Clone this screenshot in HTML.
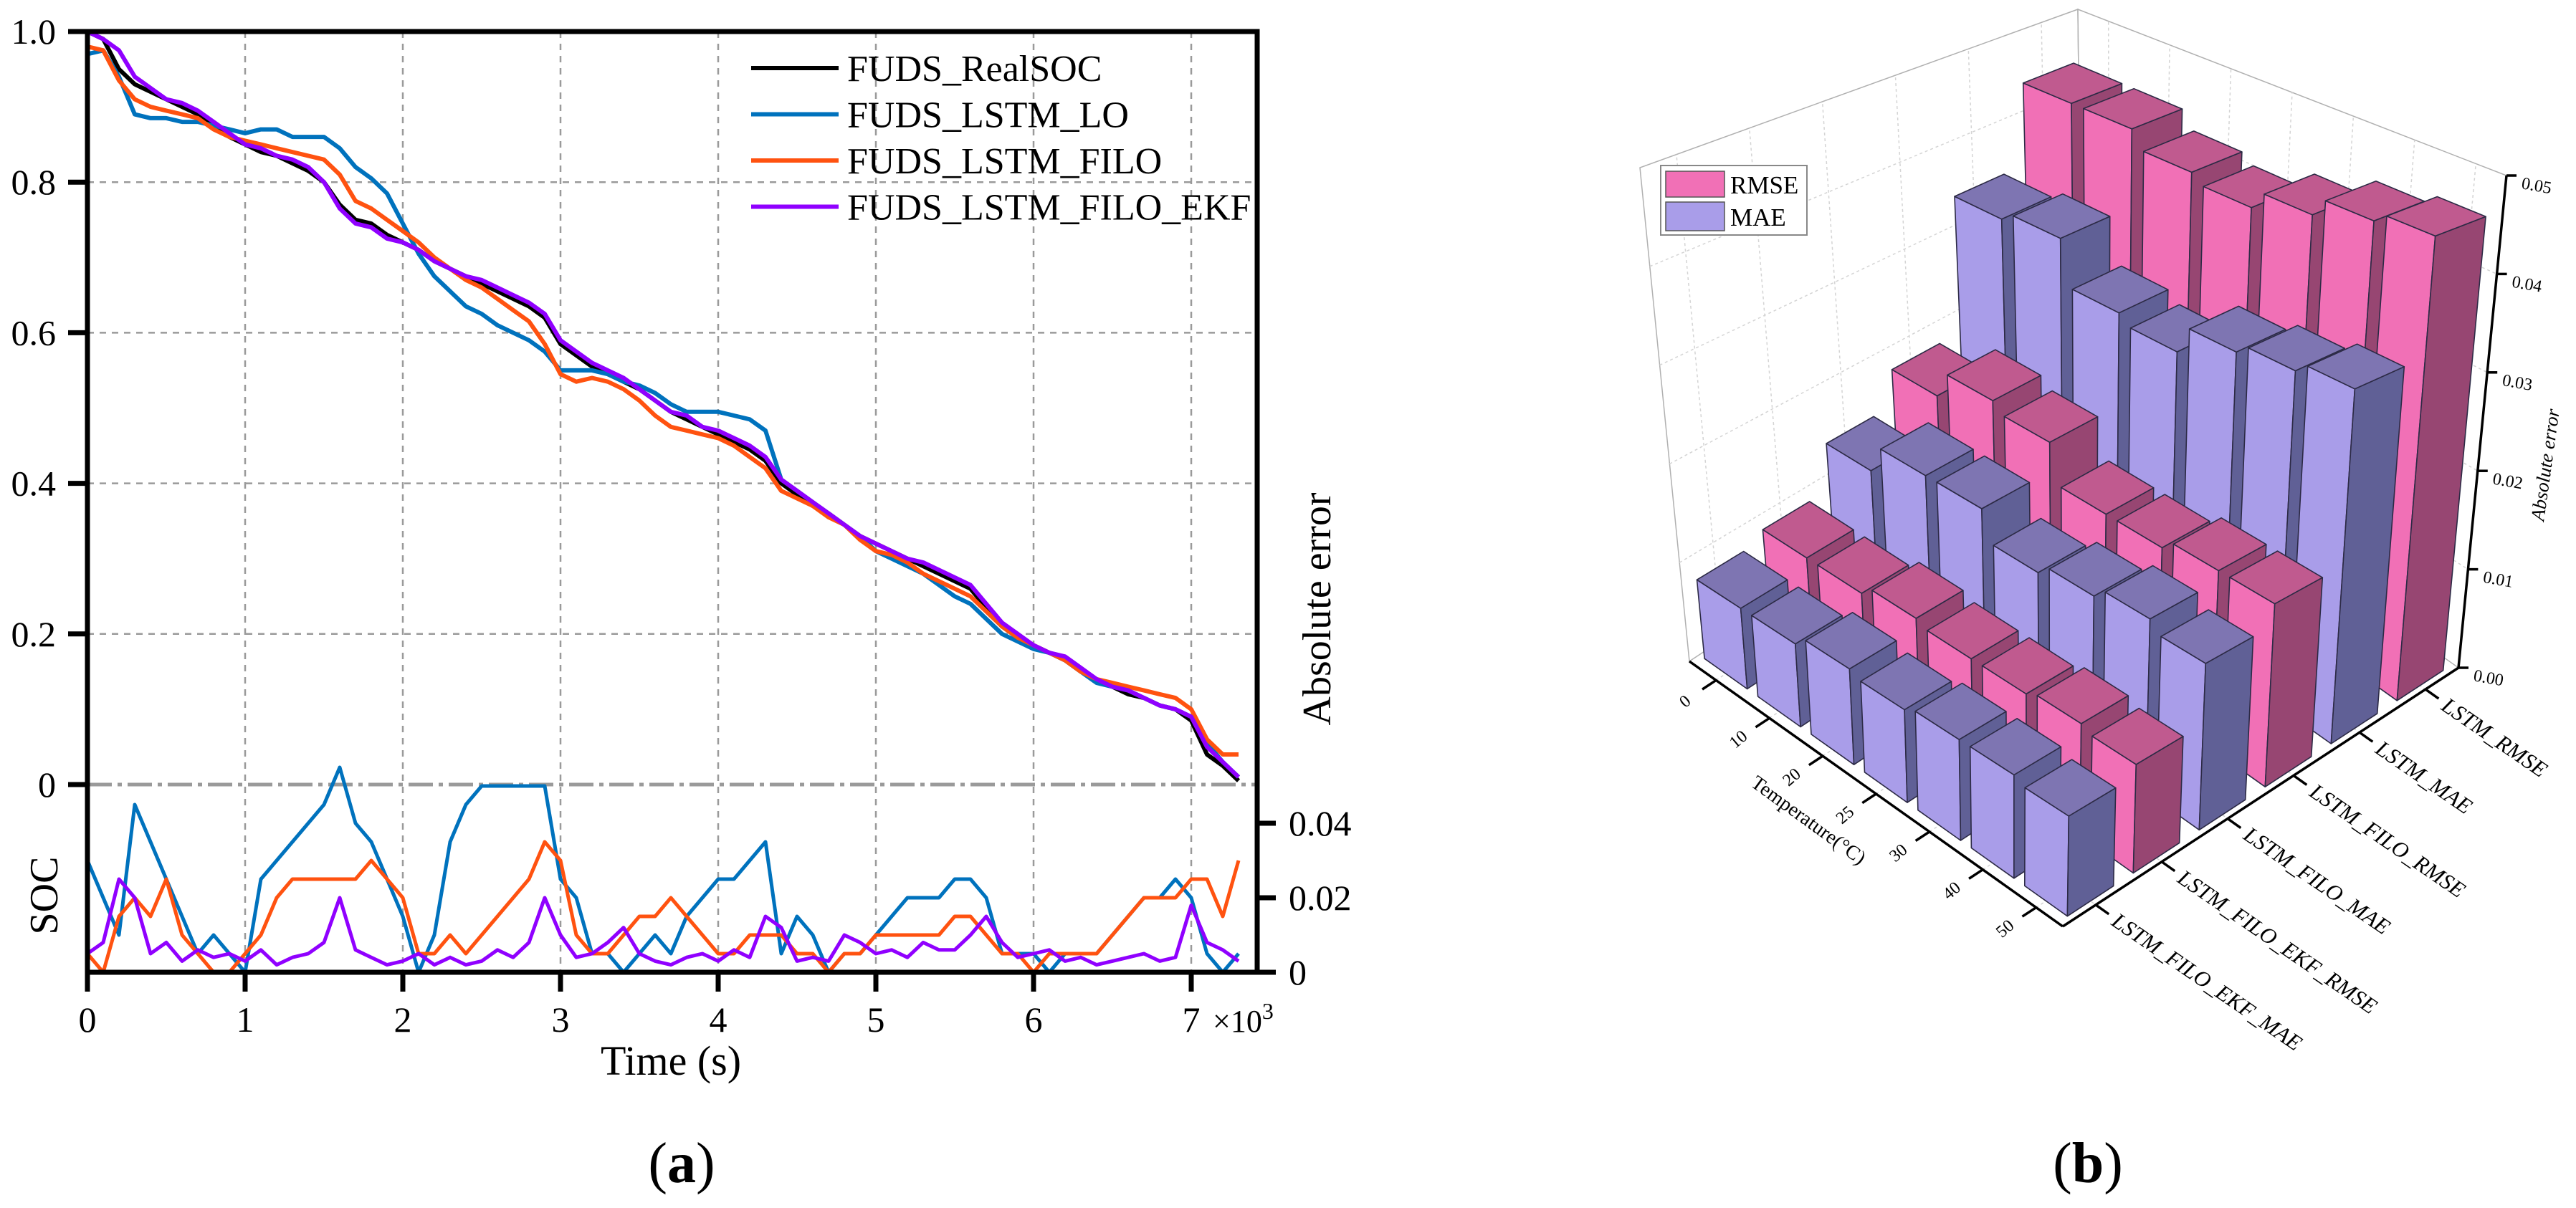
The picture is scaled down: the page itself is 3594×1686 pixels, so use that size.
<!DOCTYPE html>
<html><head><meta charset="utf-8">
<style>
html,body{margin:0;padding:0;background:#fff;}
svg{display:block;font-family:"Liberation Serif","Times New Roman",serif;}
</style></head>
<body>
<svg id="fig" width="3594" height="1686" viewBox="0 0 3594 1686" xmlns="http://www.w3.org/2000/svg">
<defs><clipPath id="clipA"><rect x="122" y="44" width="1632" height="1313"/></clipPath></defs>
<g id="panelA"></g>
<g id="panelB"></g>
<text x="951" y="1650" font-size="80" text-anchor="middle">(<tspan font-weight="bold">a</tspan>)</text>
<text x="2913" y="1650" font-size="80" text-anchor="middle">(<tspan font-weight="bold">b</tspan>)</text>
</svg>
<script>
// ---------- Panel (a) data ----------
const socReal=[1.0,.99,.95,.93,.92,.91,.90,.89,.875,.86,.85,.84,.835,.825,.815,.80,.77,.75,.745,.73,.72,.71,.695,.685,.675,.665,.655,.645,.635,.62,.585,.57,.555,.545,.535,.525,.51,.495,.485,.475,.465,.455,.445,.43,.40,.385,.37,.36,.345,.33,.32,.31,.30,.29,.28,.27,.26,.235,.21,.195,.185,.175,.165,.15,.14,.13,.12,.115,.105,.10,.085,.04,.025,.005];
const socLO=[.97,.975,.94,.89,.885,.885,.88,.88,.875,.87,.865,.87,.87,.86,.86,.86,.845,.82,.805,.785,.745,.705,.675,.655,.635,.625,.61,.60,.59,.575,.55,.55,.55,.545,.535,.53,.52,.505,.495,.495,.495,.49,.485,.47,.405,.39,.375,.36,.345,.33,.31,.30,.29,.28,.265,.25,.24,.22,.20,.19,.18,.175,.165,.15,.135,.13,.125,.115,.105,.10,.09,.055,.03,.01];
const socFILO=[.98,.975,.935,.91,.90,.895,.89,.885,.87,.86,.855,.85,.845,.84,.835,.83,.81,.775,.765,.75,.735,.72,.70,.685,.67,.66,.645,.63,.615,.585,.545,.535,.54,.535,.525,.51,.49,.475,.47,.465,.46,.45,.435,.42,.39,.38,.37,.355,.345,.325,.31,.305,.295,.28,.27,.26,.25,.23,.21,.195,.185,.175,.165,.15,.14,.135,.13,.125,.12,.115,.10,.06,.04,.04];
const socEKF=[1.0,.99,.975,.94,.925,.91,.905,.895,.88,.865,.85,.845,.835,.83,.82,.80,.765,.745,.74,.725,.72,.71,.695,.685,.675,.67,.66,.65,.64,.625,.59,.575,.56,.55,.54,.525,.51,.495,.49,.475,.47,.46,.45,.435,.405,.39,.375,.36,.345,.33,.32,.31,.30,.295,.285,.275,.265,.24,.215,.20,.185,.175,.17,.155,.14,.13,.125,.115,.105,.10,.09,.05,.03,.01];
const errLO=[.03,.02,.01,.045,.035,.025,.015,.005,.01,.005,0,.025,.03,.035,.04,.045,.055,.04,.035,.025,.015,0,.01,.035,.045,.05,.05,.05,.05,.05,.025,.02,.005,.005,0,.005,.01,.005,.015,.02,.025,.025,.03,.035,.005,.015,.01,0,.005,.005,.01,.015,.02,.02,.02,.025,.025,.02,.005,.005,.005,0,.005,.005,.005,.01,.015,.02,.02,.025,.02,.005,0,.005];
const errFILO=[.005,0,.015,.02,.015,.025,.01,.005,0,0,.005,.01,.02,.025,.025,.025,.025,.025,.03,.025,.02,.005,.005,.01,.005,.01,.015,.02,.025,.035,.03,.01,.005,.005,.01,.015,.015,.02,.015,.01,.005,.005,.01,.01,.01,.005,.005,0,.005,.005,.01,.01,.01,.01,.01,.015,.015,.01,.005,.005,0,.005,.005,.005,.005,.01,.015,.02,.02,.02,.025,.025,.015,.03];
const errEKF=[.005,.008,.025,.02,.005,.008,.003,.006,.004,.005,.003,.006,.002,.004,.005,.008,.02,.006,.004,.002,.003,.005,.002,.004,.002,.003,.006,.004,.008,.02,.01,.004,.005,.008,.012,.005,.003,.002,.004,.005,.003,.006,.004,.015,.012,.003,.004,.003,.01,.008,.005,.006,.004,.008,.006,.006,.01,.015,.008,.004,.005,.006,.003,.004,.002,.003,.004,.005,.003,.004,.018,.008,.006,.003];
const xTickLabels=["0","1","2","3","4","5","6","7"];
const socTickLabels=["0","0.2","0.4","0.6","0.8","1.0"];
const errTickLabels=["0","0.02","0.04"];
const legendNames=["FUDS_RealSOC","FUDS_LSTM_LO","FUDS_LSTM_FILO","FUDS_LSTM_FILO_EKF"];

// ---------- Panel (b) data ----------
const temps=["0","10","20","25","30","40","50"];
const seriesNames=["LSTM_RMSE","LSTM_MAE","LSTM_FILO_RMSE","LSTM_FILO_MAE","LSTM_FILO_EKF_RMSE","LSTM_FILO_EKF_MAE"];
const lstmRMSE=[0.044,0.044,0.042,0.041,0.043,0.045,0.046];
const lstmMAE=[0.034,0.035,0.030,0.029,0.032,0.033,0.034];
const filoRMSE=[0.018,0.021,0.020,0.016,0.016,0.017,0.017];
const filoMAE=[0.014,0.017,0.017,0.014,0.015,0.016,0.015];
const ekfRMSE=[0.009,0.009,0.010,0.0095,0.0095,0.010,0.0095];
const ekfMAE=[0.008,0.008,0.009,0.0085,0.009,0.009,0.0085];
const zTickLabels=["0.00","0.01","0.02","0.03","0.04","0.05"];

const NS="http://www.w3.org/2000/svg";
function mk(tag,attrs,parent){const e=document.createElementNS(NS,tag);for(const k in attrs)e.setAttribute(k,attrs[k]);parent.appendChild(e);return e;}

// ---------- Panel (a) ----------
const A=document.getElementById('panelA');
const X0=122,X1=1754,Y0=44,Y1=1357;
const xs=t=>X0+t*0.22;
const ySoc=v=>1095-v*1051;
const yErr=v=>1357-v*5200;
const times=socReal.map((_,k)=>k*100);

for(let k=1;k<=7;k++){
  const g=mk('line',{x1:xs(k*1000),x2:xs(k*1000),y1:Y0,y2:Y1,stroke:'#9a9a9a','stroke-width':2.5,'stroke-dasharray':'9 8'},A);
  
  
}
for(let k=1;k<=4;k++){
  const g=mk('line',{x1:X0,x2:X1,y1:ySoc(k*0.2),y2:ySoc(k*0.2),stroke:'#9a9a9a','stroke-width':2.5,'stroke-dasharray':'9 8'},A);
  
  
}
const zl=mk('line',{x1:X0,x2:X1,y1:ySoc(0),y2:ySoc(0),stroke:'#9a9a9a','stroke-width':5,'stroke-dasharray':'34 8 6 8'},A);



const plotG=mk('g',{'clip-path':'url(#clipA)'},A);


function poly(arr,yf,color,w,name){
  const pts=arr.map((v,k)=>xs(times[k]).toFixed(1)+','+yf(v).toFixed(1)).join(' ');
  const p=mk('polyline',{points:pts,fill:'none',stroke:color,'stroke-width':w,'stroke-linejoin':'round'},plotG);
  
  
}
poly(errLO,yErr,'#0072BD',5,'error-lstm-lo-line');
poly(errFILO,yErr,'#FF5210',5,'error-lstm-filo-line');
poly(errEKF,yErr,'#9000FF',5,'error-ekf-line');
poly(socReal,ySoc,'#000000',6,'soc-real-line');
poly(socLO,ySoc,'#0072BD',6,'soc-lstm-lo-line');
poly(socFILO,ySoc,'#FF5210',6,'soc-lstm-filo-line');
poly(socEKF,ySoc,'#9000FF',6,'soc-ekf-line');

const fr=mk('path',{d:`M95 ${Y0} H${X1} V${Y1} H${X0} V${Y0}`,fill:'none',stroke:'#000','stroke-width':7},A);


mk('line',{x1:X1,x2:1780,y1:Y1,y2:Y1,stroke:'#000','stroke-width':7},A);
socTickLabels.forEach((lab,k)=>{
  const y=ySoc(k*0.2);
  mk('line',{x1:95,x2:X0,y1:y,y2:y,stroke:'#000','stroke-width':7},A);
  const t=mk('text',{x:78,y:y+17,'font-size':50,'text-anchor':'end'},A);
  t.textContent=lab;
  
  
});
xTickLabels.forEach((lab,k)=>{
  const x=xs(k*1000);
  mk('line',{x1:x,x2:x,y1:Y1,y2:1384,stroke:'#000','stroke-width':7},A);
  const t=mk('text',{x:x,y:1440,'font-size':50,'text-anchor':'middle'},A);
  t.textContent=lab;
  
  
});
errTickLabels.forEach((lab,k)=>{
  const y=yErr(k*0.02);
  mk('line',{x1:X1,x2:1780,y1:y,y2:y,stroke:'#000','stroke-width':7},A);
  const t=mk('text',{x:1798,y:y+17,'font-size':50},A);
  t.textContent=lab;
  
  
});
const mult=mk('text',{x:1692,y:1440,'font-size':44},A);
mult.innerHTML='×10<tspan dy="-18" font-size="32">3</tspan>';


const xt=mk('text',{x:936,y:1500,'font-size':58,'text-anchor':'middle'},A);
xt.textContent='Time (s)';


const yt=mk('text',{x:0,y:0,'font-size':56,'text-anchor':'middle',transform:'translate(80,1250) rotate(-90)'},A);
yt.textContent='SOC';


const rt=mk('text',{x:0,y:0,'font-size':56,'text-anchor':'middle',transform:'translate(1856,850) rotate(-90)'},A);
rt.textContent='Absolute error';


const legColors=['#000000','#0072BD','#FF5210','#9000FF'];
const legG=mk('g',{},A);


legendNames.forEach((nm,k)=>{
  const y=95+k*64.5;
  mk('line',{x1:1048,x2:1170,y1:y,y2:y,stroke:legColors[k],'stroke-width':6},legG);
  const t=mk('text',{x:1182,y:y+18,'font-size':52},legG);
  t.textContent=nm;
  
  
});

// ---------- Panel (b) ----------
const Bp=document.getElementById('panelB');
const cL=[2357,923],cF=[2878,1293],cR=[3430,932],cB=[2905,560];
const tL=[2288,234],tF=[2889,466],tR=[3497,245],tB=[2899,13];
function bil(a,b,c,d,u,v){return [0,1].map(k=>a[k]*(1-u)*(1-v)+b[k]*u*(1-v)+c[k]*u*v+d[k]*(1-u)*v);}
function P(u,v,val){const f=bil(cL,cF,cR,cB,u,v),t=bil(tL,tF,tR,tB,u,v),w=val/0.05;return [f[0]+(t[0]-f[0])*w,f[1]+(t[1]-f[1])*w];}
const pstr=arr=>arr.map(p=>p[0].toFixed(1)+','+p[1].toFixed(1)).join(' ');
function ln(a,b,attrs,name){const e=mk('line',Object.assign({x1:a[0],y1:a[1],x2:b[0],y2:b[1]},attrs),Bp);return e;}

const wl=mk('polygon',{points:pstr([P(0,0,0),P(0,1,0),P(0,1,0.05),P(0,0,0.05)]),fill:'#fff',stroke:'#b0b0b0','stroke-width':1.5},Bp);


const wb=mk('polygon',{points:pstr([P(0,1,0),P(1,1,0),P(1,1,0.05),P(0,1,0.05)]),fill:'#fff',stroke:'#b0b0b0','stroke-width':1.5},Bp);


const gridSt={stroke:'#d4d4d4','stroke-width':1.5,'stroke-dasharray':'4 4'};
for(let k=1;k<5;k++){
  ln(P(0,0,k*0.01),P(0,1,k*0.01),gridSt,'wall-gridline');
  ln(P(0,1,k*0.01),P(1,1,k*0.01),gridSt,'wall-gridline');
}
temps.forEach((_,i)=>{const u=(i+0.5)/7;ln(P(u,1,0),P(u,1,0.05),gridSt,'wall-gridline');ln(P(u,0,0),P(u,1,0),gridSt,'floor-gridline');});
seriesNames.forEach((_,j)=>{const v=(5-j+0.5)/6;ln(P(0,v,0),P(0,v,0.05),gridSt,'wall-gridline');ln(P(0,v,0),P(1,v,0),gridSt,'floor-gridline');});

const seriesVals=[lstmRMSE,lstmMAE,filoRMSE,filoMAE,ekfRMSE,ekfMAE];
const pinkC={front:'#F170B6',top:'#C05A8F',side:'#974672'};
const lavC={front:'#A99DE9',top:'#7E75B2',side:'#606096'};
const cells=[];
temps.forEach((_,i)=>seriesNames.forEach((_,j)=>cells.push([i,j])));
cells.sort((a,b)=>(a[0]+a[1])-(b[0]+b[1]));
cells.forEach(([i,j])=>{
  const h=seriesVals[j][i];
  const col=(j%2===0)?pinkC:lavC;
  const uc=(i+0.5)/7,vc=(5-j+0.5)/6;
  const u0=uc-0.4/7,u1=uc+0.4/7,v0=vc-0.35/6,v1=vc+0.35/6;
  const g=mk('g',{stroke:'#2c2a45','stroke-width':1.6,'stroke-linejoin':'round'},Bp);
  
  
  mk('polygon',{points:pstr([P(u0,v0,0),P(u1,v0,0),P(u1,v0,h),P(u0,v0,h)]),fill:col.front},g);
  mk('polygon',{points:pstr([P(u1,v0,0),P(u1,v1,0),P(u1,v1,h),P(u1,v0,h)]),fill:col.side},g);
  mk('polygon',{points:pstr([P(u0,v0,h),P(u1,v0,h),P(u1,v1,h),P(u0,v1,h)]),fill:col.top},g);
});

const axSt={stroke:'#000','stroke-width':3.5};
ln(P(0,0,0),P(1,0,0),axSt,'temperature-axis');
ln(P(1,0,0),P(1,1,0),axSt,'series-axis');
ln(P(1,1,0),P(1,1,0.05),axSt,'value-axis');
temps.forEach((lab,i)=>{
  const u=(i+0.5)/7;
  ln(P(u,0,0),P(u,-0.035,0),axSt,'temperature-tick');
  const p=P(u,-0.07,0);
  const t=mk('text',{x:0,y:0,'font-size':24,'text-anchor':'middle',transform:`translate(${p[0].toFixed(1)},${(p[1]+10).toFixed(1)}) rotate(-40)`},Bp);
  t.textContent=lab;
  
  
});
const tt=mk('text',{x:0,y:0,'font-size':28,'text-anchor':'middle',transform:'translate(2518,1152) rotate(36)'},Bp);
tt.textContent='Temperature(°C)';


seriesNames.forEach((lab,j)=>{
  const v=(5-j+0.5)/6;
  ln(P(1,v,0),P(1.035,v,0),axSt,'series-tick');
  const p=P(1.05,v,0);
  const t=mk('text',{x:0,y:0,'font-size':31,'font-style':'italic',transform:`translate(${p[0].toFixed(1)},${p[1].toFixed(1)}) rotate(34.5)`,'dominant-baseline':'central'},Bp);
  t.textContent=lab;
  
  
});
zTickLabels.forEach((lab,k)=>{
  const p=P(1,1,k*0.01);
  ln(p,[p[0]+14,p[1]],axSt,'value-tick');
  const t=mk('text',{x:0,y:0,'font-size':24,transform:`translate(${(p[0]+20).toFixed(1)},${(p[1]+18).toFixed(1)}) rotate(10)`},Bp);
  t.textContent=lab;
  
  
});
const zt=mk('text',{x:0,y:0,'font-size':27,'font-style':'italic','text-anchor':'middle',transform:'translate(3560,650) rotate(-82)'},Bp);
zt.textContent='Absolute error';



const lg=mk('g',{},Bp);


mk('rect',{x:2317,y:231,width:204,height:97,fill:'#fff',stroke:'#888','stroke-width':2},lg);
mk('rect',{x:2324,y:239,width:82,height:36,fill:pinkC.front,stroke:'#555','stroke-width':1.5},lg);
mk('rect',{x:2324,y:282,width:82,height:40,fill:lavC.front,stroke:'#555','stroke-width':1.5},lg);
const l1=mk('text',{x:2414,y:270,'font-size':35},lg);
l1.textContent='RMSE';


const l2=mk('text',{x:2414,y:315,'font-size':35},lg);
l2.textContent='MAE';


</script>
</body></html>
